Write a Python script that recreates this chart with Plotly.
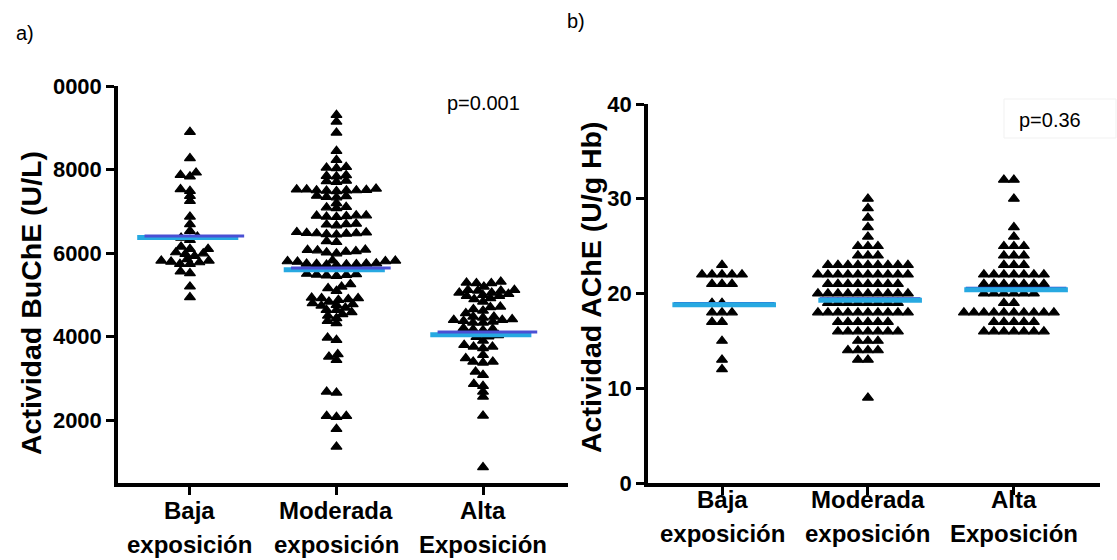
import math
import plotly.graph_objects as go

# ---------------- data ----------------
cat_line1 = ["Baja", "Moderada", "Alta"]
cat_line2 = ["exposición", "exposición", "Exposición"]

# Panel a: BuChE activity (U/L)
buche_baja = [8900, 8270, 7925, 7830, 7870, 7525, 7485, 7365, 7245, 6870, 6690,
              6525, 6365, 6310, 6390, 6150, 6095, 6095, 6015, 5975, 5990, 5815,
              5790, 5735, 5850, 5930, 5735, 5775, 5815, 5555, 5515, 5195, 4940]
buche_moderada = [9305, 9145, 8881, 8443, 8227, 8043, 8060, 8030, 7860, 7845, 7830,
                  7717, 7730, 7700,
                  7500, 7520, 7490, 7540, 7510, 7480, 7500, 7520, 7495,
                  7330, 7360, 7340, 7370, 7190,
                  7090, 7100, 7070, 6900, 6880, 6860, 6870, 6890, 6900,
                  6680, 6660, 6690, 6700, 6470, 6500, 6480, 6460, 6450, 6470, 6490, 6440,
                  6260, 6280,
                  6060, 6030, 6080, 6070, 5990, 6010, 6040,
                  5820, 5800, 5790, 5800, 5815,
                  5740, 5720, 5730, 5745, 5735, 5710, 5725, 5750,
                  5480, 5500, 5470, 5490, 5460, 5450,
                  5193, 5090, 5155, 5250,
                  4915, 4891, 4834, 4771, 4738, 4690, 4755, 4795, 4874, 4915, 4929,
                  4635, 4532, 4436, 4316, 4371, 4498, 4580, 4635,
                  3971, 3916, 3573, 3437, 3516, 2678, 2654, 2096, 2072, 2096, 1785, 1361]
buche_alta = [5289, 5274, 5194, 5274, 5313,
              5114, 5098, 5050, 5018, 4970, 4915, 4834, 4891, 4970, 4994, 5050, 5098, 5114,
              4714, 4651, 4555, 4474, 4474, 4618, 4699,
              4395, 4355, 4331, 4411, 4451, 4331, 4371, 4395,
              4180, 4150, 4170, 4200, 4000, 4030, 3990,
              3900, 3756, 3717, 3797, 3756,
              3397, 3477, 3373, 3557, 3397,
              3158, 3078, 2815, 2863, 2678, 2558, 2104, 866]
buche_line = [6370, 5600, 4040]       # cyan horizontal lines
buche_line_blue = [6410, 5640, 4110]  # blue overlay lines

# Panel b: AChE activity (U/g Hb)
ache_baja = [23, 22, 22, 22, 22, 22, 21, 21, 21, 19, 19, 18, 18, 18, 17, 17, 15, 13, 12]
ache_moderada = ([30, 29, 28, 27, 26] + [25] * 3 + [24] * 3 + [23] * 9 + [22] * 10 +
                 [21] * 8 + [20] * 10 + [19] * 8 + [18] * 10 + [17] * 6 + [16] * 7 +
                 [15] * 3 + [14] * 4 + [13] * 2 + [9])
ache_alta = ([32] * 2 + [30, 27, 26] + [25] * 3 + [24] * 3 + [23] * 3 + [22] * 7 +
             [21] * 7 + [20] * 6 + [19] * 2 + [18] * 10 + [17] * 5 + [16] * 7)
ache_line = [18.8, 19.3, 20.4]
ache_line_blue = [18.95, 19.45, 20.55]

p_a = "p=0.001"
p_b = "p=0.36"
title_a = "Actividad BuChE (U/L)"
title_b = "Actividad AChE (U/g Hb)"

# ---------------- layout geometry ----------------
W, H = 1117, 560
ax_a = dict(x0=118, x1=568, ytop=86, ybot=483)
ax_b = dict(x0=648, x1=1100, ytop=104, ybot=483)
ya_range = [491, 10000]
yb_range = [0, 40]
xa_range = [-0.491, 2.58]
xb_range = [-0.507, 2.59]


def swarm(values, px_per_y, w_px, h_px):
    """Beeswarm layout: horizontal pixel offsets that avoid marker overlap."""
    order = sorted(range(len(values)), key=lambda i: values[i])
    placed = []
    offs = [0.0] * len(values)
    for i in order:
        y = values[i] * px_per_y
        near = [(py, px) for py, px in placed if abs(py - y) < h_px]
        cands = [0.0]
        for py, px in near:
            dy = abs(py - y)
            dx = w_px * math.sqrt(max(0.0, 1 - (dy / h_px) ** 2))
            cands += [px + dx, px - dx]
        cands.sort(key=lambda c: (round(abs(c), 6), c))
        chosen = cands[-1]
        for c in cands:
            if all(((c - px) / w_px) ** 2 + ((y - py) / h_px) ** 2 >= 0.999 for py, px in near):
                chosen = c
                break
        offs[i] = chosen
        placed.append((y, chosen))
    return offs


fig = go.Figure()

pxy_a = (ax_a["ybot"] - ax_a["ytop"]) / (ya_range[1] - ya_range[0])
pxx_a = (ax_a["x1"] - ax_a["x0"]) / (xa_range[1] - xa_range[0])
pxy_b = (ax_b["ybot"] - ax_b["ytop"]) / (yb_range[1] - yb_range[0])
pxx_b = (ax_b["x1"] - ax_b["x0"]) / (xb_range[1] - xb_range[0])

marker = dict(symbol="triangle-up", size=9.5, color="black", line=dict(width=1.2, color="black"))

for g, vals in enumerate([buche_baja, buche_moderada, buche_alta]):
    offs = swarm(vals, pxy_a, 10.0, 5.0)
    fig.add_trace(go.Scatter(x=[g + o / pxx_a for o in offs], y=vals, mode="markers",
                             marker=marker, xaxis="x", yaxis="y", showlegend=False))
for g, vals in enumerate([ache_baja, ache_moderada, ache_alta]):
    offs = swarm(vals, pxy_b, 10.0, 9.0)
    fig.add_trace(go.Scatter(x=[g + o / pxx_b for o in offs], y=vals, mode="markers",
                             marker=marker, xaxis="x2", yaxis="y2", showlegend=False))

CYAN = "#27a9e1"
BLUE = "#4a50d4"
for g in range(3):
    fig.add_trace(go.Scatter(x=[g - 0.36, g + 0.33], y=[buche_line[g]] * 2, mode="lines",
                             line=dict(color=CYAN, width=5), xaxis="x", yaxis="y", showlegend=False))
    fig.add_trace(go.Scatter(x=[g - 0.31, g + 0.37], y=[buche_line_blue[g]] * 2, mode="lines",
                             line=dict(color=BLUE, width=3), xaxis="x", yaxis="y", showlegend=False))
for g in range(3):
    fig.add_trace(go.Scatter(x=[g - 0.33, g + 0.36], y=[ache_line_blue[g]] * 2, mode="lines",
                             line=dict(color="#2a3fd0", width=3), xaxis="x2", yaxis="y2", showlegend=False))
    fig.add_trace(go.Scatter(x=[g - 0.34, g + 0.37], y=[ache_line[g]] * 2, mode="lines",
                             line=dict(color=CYAN, width=5), xaxis="x2", yaxis="y2", showlegend=False))

FONT = "Liberation Sans, Arial, sans-serif"
tickfont = dict(family=FONT, size=22, color="black", weight="bold")
catfont = dict(family=FONT, size=24, color="black", weight="bold")

common_axis = dict(showline=True, linewidth=3.5, linecolor="black", ticks="outside",
                   ticklen=8, tickwidth=3, tickcolor="black", showgrid=False, zeroline=False,
                   automargin=False)

fig.update_layout(
    template="none",
    width=W, height=H, autosize=False,
    margin=dict(l=0, r=0, t=0, b=0, pad=0),
    paper_bgcolor="white", plot_bgcolor="white",
    xaxis=dict(domain=[ax_a["x0"] / W, ax_a["x1"] / W], range=xa_range, tickvals=[0, 1, 2],
               showticklabels=False, anchor="y", **common_axis),
    yaxis=dict(domain=[1 - ax_a["ybot"] / H, 1 - ax_a["ytop"] / H], range=ya_range,
               tickvals=[2000, 4000, 6000, 8000, 10000],
               ticktext=["2000", "4000", "6000", "8000", "0000"],
               tickfont=tickfont, anchor="x", **common_axis),
    xaxis2=dict(domain=[ax_b["x0"] / W, ax_b["x1"] / W], range=xb_range, tickvals=[0, 1, 2],
                showticklabels=False, anchor="y2", **common_axis),
    yaxis2=dict(domain=[1 - ax_b["ybot"] / H, 1 - ax_b["ytop"] / H], range=yb_range,
                tickvals=[0, 10, 20, 30, 40], tickfont=tickfont, anchor="x2", **common_axis),
)

# category labels (two lines each)
for xref, y1, y2 in [("x", 510, 544), ("x2", 499, 533)]:
    for g in range(3):
        for txt, yc in [(cat_line1[g], y1), (cat_line2[g], y2)]:
            fig.add_annotation(xref=xref, yref="paper", x=g, y=1 - yc / H, text=txt,
                               showarrow=False, xanchor="center", yanchor="middle",
                               font=catfont)

for text, x, yc in [("a)", 25, 33), ("b)", 576, 21)]:
    fig.add_annotation(xref="paper", yref="paper", x=x / W, y=1 - yc / H, text=text, showarrow=False,
                       xanchor="center", yanchor="middle",
                       font=dict(family=FONT, size=20, color="black"))
fig.add_annotation(xref="paper", yref="paper", x=483 / W, y=1 - 103 / H, text=p_a, showarrow=False,
                   xanchor="center", yanchor="middle", font=dict(family=FONT, size=20, color="black"))
fig.add_annotation(xref="paper", yref="paper", x=1050 / W, y=1 - 120 / H, text=p_b, showarrow=False,
                   xanchor="center", yanchor="middle", font=dict(family=FONT, size=20, color="black"))
fig.add_shape(type="rect", xref="paper", yref="paper", x0=1004 / W, x1=1116 / W,
              y0=1 - 138 / H, y1=1 - 99 / H, line=dict(color="#f1f1f1", width=1))
for text, x, yc in [(title_a, 31, 303), (title_b, 591, 288)]:
    fig.add_annotation(xref="paper", yref="paper", x=x / W, y=1 - yc / H, text=text, textangle=-90,
                       showarrow=False, xanchor="center", yanchor="middle",
                       font=dict(family=FONT, size=28.5, color="black", weight="bold"))

fig.write_html("out.html")
